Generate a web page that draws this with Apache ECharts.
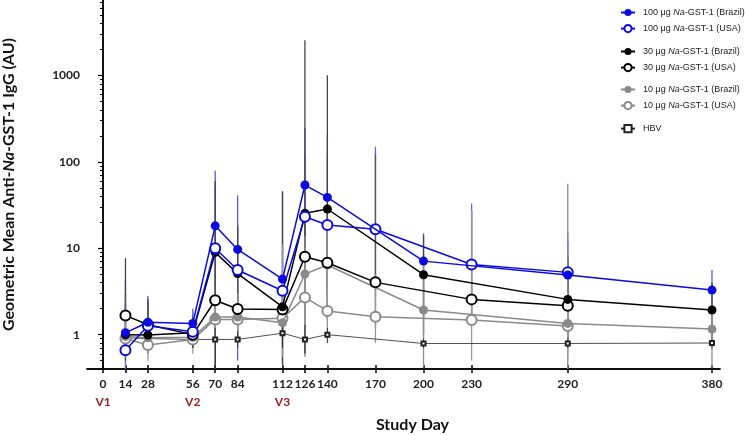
<!DOCTYPE html>
<html>
<head>
<meta charset="utf-8">
<script src="https://cdn.jsdelivr.net/npm/echarts@6/dist/echarts.min.js"></script>
<style>html,body{margin:0;padding:0;background:#fff;}#c{width:745px;height:436px;}</style>
</head>
<body>
<div id="c"></div>
<script>
// ---- data ----
const xTickDays = [0, 14, 28, 56, 70, 84, 112, 126, 140, 170, 200, 230, 290, 380];
const visitDays = [0, 56, 112];
const visitLabels = ['V1', 'V2', 'V3'];
const yMajorTicks = [1, 10, 100, 1000];
const yMinorTicks = [0.5, 0.6, 0.7, 0.8, 0.9, 2, 3, 4, 5, 6, 7, 8, 9, 20, 30, 40, 50, 60, 70, 80, 90,
  200, 300, 400, 500, 600, 700, 800, 900, 2000, 3000, 4000, 5000, 6000, 7000];

const seriesNames = [
  '100 μg Na-GST-1 (Brazil)', '100 μg Na-GST-1 (USA)',
  '30 μg Na-GST-1 (Brazil)', '30 μg Na-GST-1 (USA)',
  '10 μg Na-GST-1 (Brazil)', '10 μg Na-GST-1 (USA)',
  'HBV'
];

const brazilDays = [14, 28, 56, 70, 84, 112, 126, 140, 200, 290, 380];
const usaDays    = [14, 28, 56, 70, 84, 112, 126, 140, 170, 230, 290];
const hbvDays    = [14, 28, 56, 70, 84, 112, 126, 140, 200, 290, 380];

const br100 = [1.05, 1.39, 1.35, 18.2, 9.7, 4.4, 54, 38.8, 7.1, 4.9, 3.28];
const br100Hi = [4.2, 2.8, 2.0, 79, 41, 46, 248, 208, 14.9, 12, 5.6];
const br100Lo = [0.7, 0.85, 0.95, 4.5, 0.5, 0.45, 4, 3.5, 1.6, 2.1, 1.9];

const us100 = [0.66, 1.27, 1.08, 10, 5.6, 3.22, 23.2, 18.6, 16.6, 6.5, 5.26];
const us100Hi = [2.2, 2.4, 1.8, 51, 19, 10.7, 120, 110, 150, 33, 15.1];
const us100Lo = [0.4, 0.7, 0.8, 2, 1.6, 1, 4.5, 3, 2.75, 1.3, 2.1];

const br30 = [1.0, 0.99, 1.05, 8.96, 5.1, 2.1, 25.4, 28.5, 4.94, 2.56, 1.93];
const br30Hi = [7.7, 2.6, 1.6, 60, 18, 45, 2570, 1010, 14, 8, 4];
const br30Lo = [0.5, 0.6, 0.7, 0.38, 1.5, 0.45, 0.6, 1.5, 1.0, 0.8, 0.9];

const us30 = [1.67, 1.3, 1.0, 2.5, 1.98, 1.95, 7.97, 6.8, 4.03, 2.56, 2.16];
const us30Hi = [3, 2.2, 1.4, 6, 4, 4, 30, 25, 123, 27.6, 7];
const us30Lo = [1.0, 0.8, 0.7, 1.0, 0.9, 0.9, 2, 1.8, 1.2, 1.6, 0.8];

const br10 = [0.95, 0.92, 0.93, 1.6, 1.6, 1.37, 5.03, 6.4, 1.93, 1.35, 1.16];
const br10Hi = [1.6, 1.5, 1.3, 3, 3, 3, 14, 18, 7.3, 56, 2];
const br10Lo = [0.6, 0.6, 0.7, 0.9, 0.9, 0.6, 0.55, 1.5, 0.42, 0.4, 0.42];

const us10 = [0.9, 0.76, 0.88, 1.5, 1.5, 1.55, 2.7, 1.88, 1.61, 1.48, 1.26];
const us10Hi = [1.3, 1.2, 1.1, 2.5, 2.5, 11, 10, 6, 5, 27.6, 3];
const us10Lo = [0.55, 0.5, 0.6, 0.9, 0.9, 0.55, 0.8, 0.9, 0.8, 0.5, 0.5];

const hbv = [0.92, 0.9, 0.88, 0.88, 0.88, 1.04, 0.88, 1.0, 0.79, 0.79, 0.8];
const hbvHi = [1.1, 1.1, 1.0, 1.2, 1.1, 1.3, 1.3, 1.2, 0.9, 0.9, 0.9];
const hbvLo = [0.7, 0.7, 0.7, 0.4, 0.7, 0.7, 0.6, 0.8, 0.7, 0.7, 0.7];

// ---- build ----
const BLUE = '#0a0ae0', BLACK = '#000000', GRAY = '#8a8a8a';
const groups = [
  {name: seriesNames[0], days: brazilDays, v: br100, hi: br100Hi, lo: br100Lo, color: BLUE, filled: true, eb: '#5a5ae6'},
  {name: seriesNames[1], days: usaDays, v: us100, hi: us100Hi, lo: us100Lo, color: BLUE, filled: false, eb: '#6464e8'},
  {name: seriesNames[2], days: brazilDays, v: br30, hi: br30Hi, lo: br30Lo, color: BLACK, filled: true, eb: '#444'},
  {name: seriesNames[3], days: usaDays, v: us30, hi: us30Hi, lo: us30Lo, color: BLACK, filled: false, eb: '#555'},
  {name: seriesNames[4], days: brazilDays, v: br10, hi: br10Hi, lo: br10Lo, color: GRAY, filled: true, eb: '#8c8c8c'},
  {name: seriesNames[5], days: usaDays, v: us10, hi: us10Hi, lo: us10Lo, color: GRAY, filled: false, eb: '#999'},
  {name: seriesNames[6], days: hbvDays, v: hbv, hi: hbvHi, lo: hbvLo, color: '#222', filled: null, eb: '#333'}
];

const series = [];
groups.forEach(function (g) {
  const ebData = g.days.map(function (d, i) { return [d, g.lo[i], g.hi[i]]; });
  series.push({
    type: 'custom', name: g.name + ' err', silent: true, clip: true, z: 1,
    xAxisIndex: 0, yAxisIndex: 0,
    encode: {x: 0, y: [1, 2]},
    data: ebData,
    renderItem: function (params, api) {
      const x = api.value(0), lo = api.value(1), hi = api.value(2);
      const p1 = api.coord([x, lo]), p2 = api.coord([x, hi]);
      return {type: 'line', shape: {x1: p1[0], y1: p1[1], x2: p2[0], y2: p2[1]},
        style: {stroke: g.eb, lineWidth: g.filled === null ? 1 : 1.3}};
    }
  });
});
groups.forEach(function (g, gi) {
  const data = g.days.map(function (d, i) { return [d, g.v[i]]; });
  const isHbv = g.filled === null;
  series.push({
    type: 'line', name: g.name, data: data, z: isHbv ? 3 : 10 - gi,
    xAxisIndex: 0, yAxisIndex: 0,
    symbol: isHbv ? 'emptyRect' : (g.filled ? 'circle' : 'emptyCircle'),
    symbolSize: isHbv ? 4 : (g.filled ? 9 : 10),
    showAllSymbol: true,
    lineStyle: {color: g.color, width: isHbv ? 0.8 : 1.5},
    itemStyle: {color: g.color, borderColor: g.color, borderWidth: isHbv ? 0.7 : (g.filled ? 0 : 1.5)},
    emphasis: {disabled: true},
    animation: false
  });
});

const legendBase = {
  orient: 'vertical', left: 620, padding: 0, itemGap: 7, itemWidth: 14, itemHeight: 9,
  textStyle: {fontFamily: 'Liberation Sans', fontSize: 9, color: '#222', padding: [0, 0, 0, 3],
    rich: {i: {fontFamily: 'Liberation Sans', fontSize: 9, fontStyle: 'italic', color: '#222'}}},
  formatter: function (n) { return n.replace('Na-GST', '{i|Na}-GST'); },
  selectedMode: false
};
function mkLegend(top, names) { return Object.assign({}, legendBase, {top: top, data: names}); }

const labelFont = {fontFamily: 'Lato', fontWeight: 'bold', fontSize: 12, color: '#222'};
const gridBox = {left: 87, right: 25, top: 0, bottom: 67, containLabel: false, outerBoundsMode: 'none'};
const axisLineStyle = {show: true, lineStyle: {color: '#000', width: 1.5}};

const option = {
  animation: false,
  backgroundColor: '#fff',
  grid: [Object.assign({}, gridBox), Object.assign({}, gridBox)],
  legend: [
    mkLegend(8, [seriesNames[0], seriesNames[1]]),
    mkLegend(47, [seriesNames[2], seriesNames[3]]),
    mkLegend(85, [seriesNames[4], seriesNames[5]]),
    mkLegend(124, [seriesNames[6]])
  ],
  xAxis: [{
    gridIndex: 0, type: 'value', min: -10, max: 385, position: 'bottom',
    name: 'Study Day', nameLocation: 'middle', nameGap: 48,
    nameTextStyle: {fontFamily: 'Lato', fontWeight: 'bold', fontSize: 16, color: '#111', padding: [0, 0, 0, 18]},
    axisLine: axisLineStyle,
    axisTick: {show: true, length: 4, customValues: xTickDays, lineStyle: {color: '#000', width: 1.5}},
    axisLabel: {
      customValues: xTickDays, margin: 7,
      formatter: function (v) {
        const k = visitDays.indexOf(v);
        return k >= 0 ? '{a|' + v + '}\n{r|' + visitLabels[k] + '}' : '{a|' + v + '}';
      },
      rich: {
        a: Object.assign({lineHeight: 17}, labelFont),
        r: {fontFamily: 'Lato', fontWeight: 'bold', fontSize: 12, color: '#a01c24', lineHeight: 19}
      }
    },
    splitLine: {show: false}
  }, {
    gridIndex: 1, type: 'value', min: -10, max: 385, position: 'bottom',
    axisLine: axisLineStyle,
    axisTick: {show: true, inside: true, length: 4, customValues: xTickDays, lineStyle: {color: '#000', width: 1.5}},
    axisLabel: {show: false}, splitLine: {show: false}
  }],
  yAxis: [{
    gridIndex: 0, type: 'log', logBase: 10, min: 0.4, max: 7500, position: 'left',
    name: '{n|Geometric Mean Anti-}{i|Na}{n|-GST-1 IgG (AU)}',
    nameLocation: 'middle', nameGap: 70, nameRotate: 90,
    nameTextStyle: {
      rich: {
        n: {fontFamily: 'Lato', fontWeight: 'bold', fontSize: 16, color: '#111'},
        i: {fontFamily: 'Lato', fontWeight: 'bold', fontStyle: 'italic', fontSize: 16, color: '#111'}
      }
    },
    axisLine: axisLineStyle,
    axisTick: {show: true, length: 5, customValues: yMajorTicks, lineStyle: {color: '#000', width: 1.2}},
    axisLabel: Object.assign({customValues: yMajorTicks, margin: 7,
      formatter: function (v) { return String(v); }}, labelFont),
    splitLine: {show: false}
  }, {
    gridIndex: 1, type: 'log', logBase: 10, min: 0.4, max: 7500, position: 'left',
    axisLine: axisLineStyle,
    axisTick: {show: true, length: 3, customValues: yMinorTicks, lineStyle: {color: '#000', width: 1}},
    axisLabel: {show: false}, splitLine: {show: false}
  }],
  series: series
};

const chart = echarts.init(document.getElementById('c'), null, {renderer: 'canvas'});
chart.setOption(option);
</script>
</body>
</html>
